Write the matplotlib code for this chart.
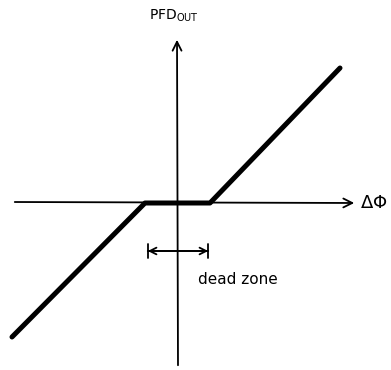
import matplotlib
matplotlib.use('Agg')
import matplotlib.pyplot as plt

# phase error vs PFD output (with a dead zone around zero)
phase = [-1.65, -0.32, 0.33, 1.63]
pfd_out = [-1.34, 0.0, 0.0, 1.35]
dead_zone = [-0.32, 0.34]

fig = plt.figure(figsize=(3.91, 3.70), dpi=100)
ax = fig.add_axes([0, 0, 1, 1])
ax.set_xlim(-1.77, 2.14)
ax.set_ylim(-1.67, 2.03)
ax.axis('off')

# axes (hand drawn look)
ax.annotate('', xy=(1.80, 0.0), xytext=(-1.65, 0.01),
            arrowprops=dict(arrowstyle='->', lw=1.3, color='black',
                            mutation_scale=16))
ax.annotate('', xy=(0.0, 1.66), xytext=(0.01, -1.65),
            arrowprops=dict(arrowstyle='->', lw=1.3, color='black',
                            mutation_scale=16))

# characteristic
ax.plot(phase, pfd_out, color='black', lw=3.6, solid_capstyle='round',
        solid_joinstyle='round')

# dead zone marker
ax.annotate('', xy=(dead_zone[0], -0.48), xytext=(dead_zone[1], -0.48),
            arrowprops=dict(arrowstyle='|-|', lw=1.3, color='black',
                            mutation_scale=5))
ax.annotate('', xy=(dead_zone[0], -0.48), xytext=(dead_zone[1], -0.48),
            arrowprops=dict(arrowstyle='<->', lw=1.3, color='black',
                            mutation_scale=12))
ax.text(0.21, -0.76, 'dead zone', fontsize=11, ha='left', va='center')

# labels
ax.text(-0.03, 1.87, r'PFD$_{\mathrm{OUT}}$', fontsize=10, ha='center', va='center')
ax.text(1.97, 0.0, r'$\Delta\Phi$', fontsize=13, ha='center', va='center')

fig.savefig('out.png', dpi=100)
